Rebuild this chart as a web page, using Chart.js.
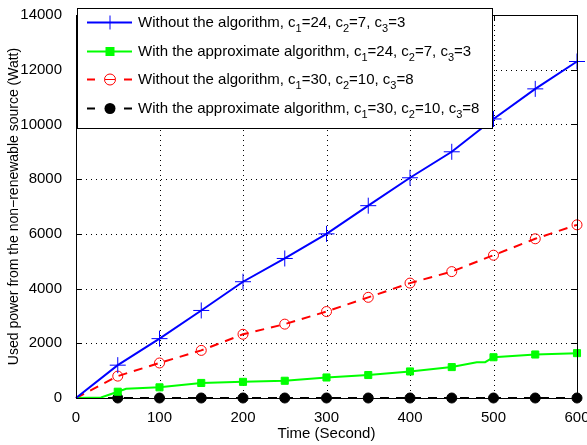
<!DOCTYPE html>
<html>
<head>
<meta charset="utf-8">
<script src="https://cdn.jsdelivr.net/npm/chart.js@4.4.0/dist/chart.umd.min.js"></script>
<style>
  html, body { margin: 0; padding: 0; background: #fff; }
  #wrap { width: 587px; height: 445px; }
</style>
</head>
<body>
<div id="wrap"><canvas id="chart--power" width="587" height="445"></canvas></div>
<script>
// values (Watt), time in seconds
const times = [0, 50, 100, 150, 200, 250, 300, 350, 400, 450, 500, 550, 600]
const blueVals = [0, 1200, 2170, 3200, 4250, 5100, 6000, 7030, 8050, 9000, 10200, 11300, 12300]
const redVals = [0, 800, 1280, 1740, 2330, 2700, 3160, 3680, 4200, 4620, 5220, 5820, 6330]
const blackVals = [0, 0, 0, 0, 0, 0, 0, 0, 0, 0, 0, 0, 0]
const greenTimes = [0, 30, 50, 60, 100, 150, 200, 250, 300, 350, 400, 450, 480, 490, 500, 550, 600]
const greenVals = [0, 20, 230, 340, 390, 550, 590, 630, 750, 840, 970, 1130, 1310, 1310, 1490, 1590, 1640]

const xTicks = [0, 100, 200, 300, 400, 500, 600]
const yTicks = [0, 2000, 4000, 6000, 8000, 10000, 12000, 14000]

// legend entries: [prefix, c1, c2, c3]
const legendItems = [
	['Without the algorithm, ', '24', '7', '3'],
	['With the approximate algorithm, ', '24', '7', '3'],
	['Without the algorithm, ', '30', '10', '8'],
	['With the approximate algorithm, ', '30', '10', '8']
]

const FONT = '"Liberation Sans", Arial, Helvetica, sans-serif'

function pts(xs, ys) {
	return xs.map(function(x, i) { return { x: x, y: ys[i] } })
}
function markerAt(r) {
	return function(ctx) {
		var x = ctx.raw ? ctx.raw.x : 0
		return (x > 0 && x % 50 === 0) ? r : 0
	}
}

const styles = [
	{ color: '#0000ff', dash: [], point: 'cross', radius: 8, fill: false },
	{ color: '#00ff00', dash: [], point: 'rect', radius: 5, fill: true },
	{ color: '#ff0000', dash: [9, 7], point: 'circle', radius: 5, fill: false },
	{ color: '#000000', dash: [9, 7], point: 'circle', radius: 5, fill: true }
]

// dotted grid under the lines
const gridPlugin = {
	id: 'dotgrid',
	beforeDatasetsDraw(chart) {
		const c = chart.ctx
		const a = chart.chartArea
		const xs = chart.scales.x, ys = chart.scales.y
		c.save()
		c.strokeStyle = '#000'
		c.lineWidth = 1
		c.setLineDash([1, 4])
		c.beginPath()
		xTicks.forEach(function(v) {
			var px = Math.round(xs.getPixelForValue(v)) + 0.5
			c.moveTo(px, a.top); c.lineTo(px, a.bottom)
		})
		yTicks.forEach(function(v) {
			var py = Math.round(ys.getPixelForValue(v)) + 0.5
			c.moveTo(a.left, py); c.lineTo(a.right, py)
		})
		c.stroke()
		c.restore()
	}
}

// draws the box frame, inward ticks and the legend with subscripts
const framePlugin = {
	id: 'frame',
	afterDraw(chart) {
		const c = chart.ctx
		const a = chart.chartArea
		const xs = chart.scales.x, ys = chart.scales.y
		c.save()
		c.strokeStyle = '#000'
		c.lineWidth = 1
		c.setLineDash([])
		c.strokeRect(Math.round(a.left) + 0.5, Math.round(a.top) + 0.5, Math.round(a.right - a.left), Math.round(a.bottom - a.top))
		c.beginPath()
		xTicks.forEach(function(v) {
			var px = Math.round(xs.getPixelForValue(v)) + 0.5
			c.moveTo(px, a.bottom); c.lineTo(px, a.bottom - 5)
			c.moveTo(px, a.top); c.lineTo(px, a.top + 5)
		})
		yTicks.forEach(function(v) {
			var py = Math.round(ys.getPixelForValue(v)) + 0.5
			c.moveTo(a.left, py); c.lineTo(a.left + 5, py)
			c.moveTo(a.right, py); c.lineTo(a.right - 5, py)
		})
		c.stroke()

		// legend box
		const bx = 77, by = 8, bw = 415, bh = 120
		c.fillStyle = '#fff'
		c.fillRect(bx, by, bw, bh)
		c.strokeRect(bx + 0.5, by + 0.5, bw, bh)
		const rows = [22, 51, 79, 108]
		legendItems.forEach(function(item, i) {
			const s = styles[i]
			const y = rows[i] + 0.5
			c.strokeStyle = s.color
			c.lineWidth = 2
			c.beginPath()
			if (s.dash.length) {
				c.moveTo(87, y); c.lineTo(95, y)
				c.moveTo(124, y); c.lineTo(132, y)
			} else {
				c.moveTo(87, y); c.lineTo(132, y)
			}
			c.stroke()
			// marker
			c.lineWidth = 1
			c.fillStyle = s.color
			const mx = 110
			if (s.point === 'cross') {
				c.beginPath()
				c.moveTo(mx - 7, y); c.lineTo(mx + 7, y)
				c.moveTo(mx, y - 7); c.lineTo(mx, y + 7)
				c.stroke()
			} else if (s.point === 'rect') {
				c.fillRect(mx - 4.5, y - 4.5, 9, 9)
			} else {
				c.beginPath()
				c.arc(mx, y, 5.5, 0, Math.PI * 2)
				if (s.fill) c.fill(); else c.stroke()
				if (!s.fill) {
					c.beginPath(); c.moveTo(mx - 5, y); c.lineTo(mx + 5, y); c.stroke()
				}
			}
			// text with subscripts
			c.fillStyle = '#000'
			c.textBaseline = 'middle'
			c.textAlign = 'left'
			var tx = 138
			const big = '15px ' + FONT, small = '11px ' + FONT
			function put(txt, f, dy) {
				c.font = f
				c.fillText(txt, tx, y + dy)
				tx += c.measureText(txt).width
			}
			put(item[0] + 'c', big, 0); put('1', small, 6)
			put('=' + item[1] + ', c', big, 0); put('2', small, 6)
			put('=' + item[2] + ', c', big, 0); put('3', small, 6)
			put('=' + item[3], big, 0)
		})
		c.restore()
	}
}

const ctx = document.getElementById('chart--power').getContext('2d')
const seriesData = [pts(times, blueVals), pts(greenTimes, greenVals), pts(times, redVals), pts(times, blackVals)]

const chart__power = new Chart(ctx, {
	type: 'line',
	data: {
		datasets: seriesData.map(function(d, i) {
			const s = styles[i]
			return {
				data: d,
				borderColor: s.color,
				borderWidth: 2,
				borderDash: s.dash,
				pointStyle: s.point,
				pointRadius: markerAt(s.radius),
				pointHoverRadius: 0,
				pointBorderColor: s.color,
				pointBackgroundColor: s.fill ? s.color : 'rgba(0,0,0,0)',
				pointBorderWidth: 1,
				tension: 0,
				fill: false,
				clip: false
			}
		})
	},
	options: {
		responsive: false,
		animation: false,
		layout: { padding: { top: 10, right: 10, left: 0, bottom: 0 } },
		plugins: { legend: { display: false }, tooltip: { enabled: false } },
		scales: {
			x: {
				type: 'linear',
				min: 0, max: 600,
				afterBuildTicks: function(s) { s.ticks = xTicks.map(function(v) { return { value: v } }) },
				afterFit: function(s) { s.height = 47; s.paddingRight = 0; s.paddingLeft = 0 },
				grid: { display: false },
				border: { display: true, color: '#000' },
				ticks: { color: '#000', font: { size: 15, family: FONT }, padding: 3, maxRotation: 0, callback: function(v) { return String(v) } },
				title: { display: true, text: 'Time (Second)', color: '#000', font: { size: 15, family: FONT }, padding: { top: 0, bottom: 2 } }
			},
			y: {
				min: 0, max: 14000,
				afterBuildTicks: function(s) { s.ticks = yTicks.map(function(v) { return { value: v } }) },
				afterFit: function(s) { s.width = 76 },
				grid: { display: false },
				border: { display: true, color: '#000' },
				ticks: { color: '#000', font: { size: 15, family: FONT }, padding: 6, callback: function(v) { return String(v) } },
				title: { display: true, text: 'Used power from the non\u2212renewable source (Watt)', color: '#000', font: { size: 14, family: FONT }, padding: { top: 6, bottom: 2 } }
			}
		}
	},
	plugins: [gridPlugin, framePlugin]
})
</script>
</body>
</html>
